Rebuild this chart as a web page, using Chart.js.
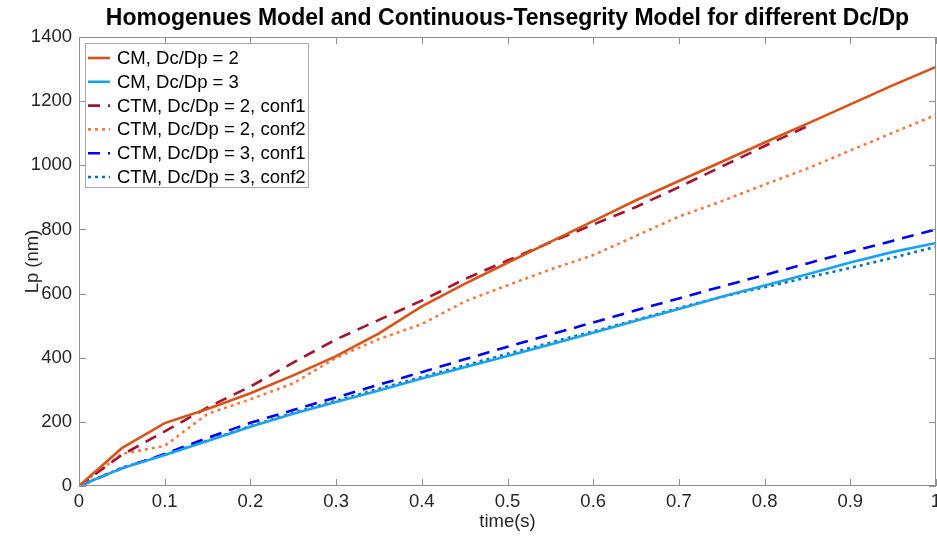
<!DOCTYPE html>
<html>
<head>
<meta charset="utf-8">
<title>Lp vs time</title>
<script src="https://cdn.jsdelivr.net/npm/chart.js@4.4.1/dist/chart.umd.min.js"></script>
<style>
  html, body { margin: 0; padding: 0; background: #fff; overflow: hidden; }
  #wrap { width: 937px; height: 540px; }
</style>
</head>
<body>
<div id="wrap"><canvas id="lpChart" width="937" height="540"></canvas></div>
<script>
// time samples (s)
const time = [0, 0.05, 0.1, 0.15, 0.2, 0.25, 0.3, 0.35, 0.4, 0.45, 0.5,
              0.55, 0.6, 0.65, 0.7, 0.75, 0.8, 0.85, 0.9, 0.95, 1];

// Lp (nm) for each model
const cm2       = [0, 118, 196, 240, 289, 345, 405, 476, 560, 630, 696, 761, 826, 891, 951, 1011, 1071, 1130, 1190, 1250, 1307];
const cm3       = [0, 55, 97, 140, 185, 225, 262, 298, 335, 370, 405, 441, 478, 515, 552, 590, 625, 660, 697, 730, 758];
const ctm2conf1 = [0, 97, 170, 245, 310, 385, 457, 518, 578, 645, 703, 760, 815, 870, 932, 996, 1060, 1122];
const ctm2conf2 = [0, 100, 125, 225, 270, 320, 400, 458, 505, 575, 626, 675, 720, 780, 840, 888, 940, 990, 1046, 1102, 1157];
const ctm3conf1 = [0, 55, 100, 150, 197, 237, 276, 316, 355, 395, 434, 472, 510, 548, 585, 622, 658, 694, 730, 765, 800];
const ctm3conf2 = [0, 57, 97, 142, 187, 228, 266, 303, 340, 376, 412, 447, 482, 518, 555, 590, 620, 650, 680, 712, 746];

// axis ticks
const xTicks = [0, 0.1, 0.2, 0.3, 0.4, 0.5, 0.6, 0.7, 0.8, 0.9, 1];
const yTicks = [0, 200, 400, 600, 800, 1000, 1200, 1400];

const FONT = '"Liberation Sans", Arial, Helvetica, sans-serif';
const FONT_SIZE = 18.5;
const TEXT = '#262626';
const AXIS = '#8f8f8f';

function points(values) {
  return values.map((v, i) => ({ x: time[i], y: v }));
}

function series(label, values, color, dash) {
  return {
    label: label,
    data: points(values),
    borderColor: color,
    backgroundColor: color,
    borderWidth: 2.6,
    borderDash: dash,
    borderCapStyle: 'butt',
    pointRadius: 0,
    tension: 0,
    fill: false
  };
}

// box around the plot with inward ticks on all four sides
const frameTicks = {
  id: 'frameTicks',
  afterDatasetsDraw(chart) {
    const { ctx, chartArea: a, scales } = chart;
    const len = 7;
    ctx.save();
    ctx.strokeStyle = AXIS;
    ctx.lineWidth = 1;
    ctx.setLineDash([]);
    ctx.strokeRect(a.left + 0.5, a.top + 0.5, a.right - a.left - 1, a.bottom - a.top - 1);
    ctx.beginPath();
    xTicks.forEach(v => {
      const px = Math.round(scales.x.getPixelForValue(v)) + 0.5;
      ctx.moveTo(px, a.bottom); ctx.lineTo(px, a.bottom - len);
      ctx.moveTo(px, a.top); ctx.lineTo(px, a.top + len);
    });
    yTicks.forEach(v => {
      const py = Math.round(scales.y.getPixelForValue(v)) + 0.5;
      ctx.moveTo(a.left, py); ctx.lineTo(a.left + len, py);
      ctx.moveTo(a.right, py); ctx.lineTo(a.right - len, py);
    });
    ctx.stroke();
    ctx.restore();
  }
};

// legend drawn inside the top-left corner of the plot
const boxLegend = {
  id: 'boxLegend',
  afterDatasetsDraw(chart) {
    const { ctx, chartArea: a } = chart;
    const x0 = a.left + 6, y0 = a.top + 6;
    const w = 223, h = 144, rowH = 23.8;
    ctx.save();
    ctx.fillStyle = '#fff';
    ctx.fillRect(x0, y0, w, h);
    ctx.strokeStyle = '#a8a8a8';
    ctx.lineWidth = 1;
    ctx.strokeRect(x0 + 0.5, y0 + 0.5, w, h);
    ctx.font = FONT_SIZE + 'px ' + FONT;
    ctx.textBaseline = 'middle';
    chart.data.datasets.forEach((ds, i) => {
      const y = y0 + 15 + i * rowH;
      ctx.beginPath();
      ctx.setLineDash(ds.borderDash || []);
      ctx.strokeStyle = ds.borderColor;
      ctx.lineWidth = ds.borderWidth;
      ctx.moveTo(x0 + 3, y);
      ctx.lineTo(x0 + 25, y);
      ctx.stroke();
      ctx.setLineDash([]);
      ctx.fillStyle = '#000';
      ctx.fillText(ds.label, x0 + 32, y + 1);
    });
    ctx.restore();
  }
};

// title centred over the plot area
const plotTitle = {
  id: 'plotTitle',
  afterDraw(chart) {
    const { ctx, chartArea: a } = chart;
    ctx.save();
    ctx.font = 'bold 23px ' + FONT;
    ctx.fillStyle = '#000';
    ctx.textAlign = 'center';
    ctx.textBaseline = 'middle';
    ctx.fillText('Homogenues Model and Continuous-Tensegrity Model for different Dc/Dp',
      (a.left + a.right) / 2, 19);
    ctx.restore();
  }
};

new Chart(document.getElementById('lpChart'), {
  type: 'line',
  data: {
    datasets: [
      series('CM, Dc/Dp = 2', cm2, '#D95319', []),
      series('CM, Dc/Dp = 3', cm3, '#1AA1F0', []),
      series('CTM, Dc/Dp = 2, conf1', ctm2conf1, '#A2142F', [12, 8]),
      series('CTM, Dc/Dp = 2, conf2', ctm2conf2, '#F8783F', [3, 4]),
      series('CTM, Dc/Dp = 3, conf1', ctm3conf1, '#0000FF', [12, 8]),
      series('CTM, Dc/Dp = 3, conf2', ctm3conf2, '#0072BD', [3, 4])
    ]
  },
  options: {
    responsive: false,
    animation: false,
    layout: { padding: { top: 37, right: 1, left: 0, bottom: 0 } },
    plugins: {
      legend: { display: false },
      title: { display: false },
      tooltip: { enabled: false }
    },
    scales: {
      x: {
        type: 'linear',
        min: 0,
        max: 1,
        afterFit: s => { s.height = 54; s.paddingLeft = 0; s.paddingRight = 0; },
        afterBuildTicks: s => { s.ticks = xTicks.map(v => ({ value: v })); },
        grid: { display: false, drawTicks: false },
        border: { display: false },
        ticks: {
          padding: 5,
          color: TEXT,
          font: { family: FONT, size: FONT_SIZE },
          maxRotation: 0,
          callback: v => String(v)
        },
        title: {
          display: true,
          text: 'time(s)',
          color: TEXT,
          font: { family: FONT, size: FONT_SIZE },
          padding: { top: 0, bottom: 7 }
        }
      },
      y: {
        type: 'linear',
        min: 0,
        max: 1400,
        afterFit: s => { s.width = 79; s.paddingTop = 0; s.paddingBottom = 0; },
        afterBuildTicks: s => { s.ticks = yTicks.map(v => ({ value: v })); },
        grid: { display: false, drawTicks: false },
        border: { display: false },
        ticks: {
          padding: 7,
          color: TEXT,
          font: { family: FONT, size: FONT_SIZE },
          callback: v => String(v)
        },
        title: {
          display: true,
          text: 'Lp (nm)',
          color: TEXT,
          font: { family: FONT, size: FONT_SIZE },
          padding: { top: 22, bottom: 0 }
        }
      }
    }
  },
  plugins: [frameTicks, boxLegend, plotTitle]
});
</script>
</body>
</html>
